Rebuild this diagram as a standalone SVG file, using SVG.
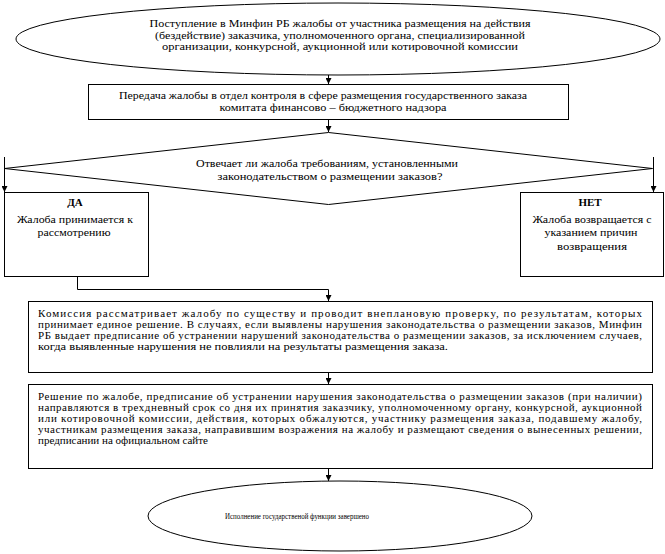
<svg xmlns="http://www.w3.org/2000/svg" width="665" height="554" viewBox="0 0 665 554" font-family="'Liberation Serif', 'Times New Roman', serif">
<style>
.s{fill:#fff;stroke:#000;stroke-width:1}
.c{fill:none;stroke:#000;stroke-width:1}
text{font-family:'Liberation Serif','Times New Roman',serif;font-size:11px;fill:#000}
.m{text-anchor:middle}
.b{font-weight:bold}
.sm{font-size:8px}
</style>
<defs>
<marker id="ah" viewBox="0 0 8 8" refX="8" refY="4" markerWidth="7" markerHeight="6" markerUnits="userSpaceOnUse" orient="auto">
<path d="M0,0 L8,4 L0,8 z" fill="#000"/>
</marker>
</defs>
<rect width="665" height="554" fill="#fff"/>
<g id="connectors">
<path class="c" d="M328.5,75 V84" marker-end="url(#ah)"/>
<path class="c" d="M328.5,119 V132" marker-end="url(#ah)"/>
<path class="c" d="M4.5,157 V192" marker-end="url(#ah)"/>
<path class="c" d="M653.5,157 V192" marker-end="url(#ah)"/>
<path class="c" d="M77.5,276 V289.5 H328.5 V301" marker-end="url(#ah)"/>
<path class="c" d="M328.5,372 V384" marker-end="url(#ah)"/>
<path class="c" d="M328.5,468 V481" marker-end="url(#ah)"/>
</g>
<g id="start">
<ellipse class="s" cx="338" cy="39" rx="322" ry="36"/>
<text class="m" x="340" y="27" textLength="381" lengthAdjust="spacingAndGlyphs">Поступление в Минфин РБ жалобы от участника размещения на действия</text>
<text class="m" x="340" y="38.5" textLength="370" lengthAdjust="spacingAndGlyphs">(бездействие) заказчика, уполномоченного органа, специализированной</text>
<text class="m" x="340" y="50" textLength="356" lengthAdjust="spacingAndGlyphs">организации, конкурсной, аукционной или котировочной комиссии</text>
</g>
<g id="transfer">
<rect class="s" x="88.5" y="84.5" width="480" height="35"/>
<text class="m" x="323" y="99" textLength="408" lengthAdjust="spacingAndGlyphs">Передача жалобы в отдел контроля в сфере размещения государственного заказа</text>
<text class="m" x="333" y="111" textLength="227" lengthAdjust="spacingAndGlyphs">комитата финансово – бюджетного надзора</text>
</g>
<g id="decision">
<polygon class="s" points="328.5,132.5 652.5,168.5 328.5,204.5 4.5,168.5"/>
<text class="m" x="327" y="167" textLength="262" lengthAdjust="spacingAndGlyphs">Отвечает ли жалоба требованиям, установленными</text>
<text class="m" x="330" y="180" textLength="225" lengthAdjust="spacingAndGlyphs">законодательством о размещении заказов?</text>
</g>
<g id="yes">
<rect class="s" x="4.5" y="192.5" width="144" height="84"/>
<text class="m b" x="75" y="206">ДА</text>
<text class="m" x="75" y="223" textLength="116" lengthAdjust="spacingAndGlyphs">Жалоба принимается к</text>
<text class="m" x="74" y="236" textLength="73" lengthAdjust="spacingAndGlyphs">рассмотрению</text>
</g>
<g id="no">
<rect class="s" x="520.5" y="192.5" width="143" height="84"/>
<text class="m b" x="590" y="206">НЕТ</text>
<text class="m" x="592" y="223" textLength="119" lengthAdjust="spacingAndGlyphs">Жалоба возвращается с</text>
<text class="m" x="591" y="236" textLength="93" lengthAdjust="spacingAndGlyphs">указанием причин</text>
<text class="m" x="592" y="250" textLength="70" lengthAdjust="spacingAndGlyphs">возвращения</text>
</g>
<g id="review">
<rect class="s" x="28.5" y="301.5" width="624" height="71"/>
<text x="38" y="317" textLength="604" lengthAdjust="spacing">Комиссия рассматривает жалобу  по существу и проводит внеплановую проверку, по результатам, которых</text>
<text x="38" y="328" textLength="604" lengthAdjust="spacing">принимает единое решение. В случаях, если выявлены нарушения законодательства о размещении заказов, Минфин</text>
<text x="38" y="339" textLength="604" lengthAdjust="spacing">РБ выдает предписание об устранении нарушений законодательства о размещении заказов, за исключением случаев,</text>
<text x="38" y="350" textLength="410" lengthAdjust="spacingAndGlyphs">когда выявленные нарушения не повлияли на результаты размещения заказа.</text>
</g>
<g id="decision-send">
<rect class="s" x="28.5" y="384.5" width="624" height="84"/>
<text x="38" y="400" textLength="604" lengthAdjust="spacing">Решение по жалобе, предписание об устранении нарушения законодательства о размещении заказов (при наличии)</text>
<text x="38" y="411" textLength="604" lengthAdjust="spacing">направляются в трехдневный срок со дня их принятия заказчику, уполномоченному органу, конкурсной, аукционной</text>
<text x="38" y="422" textLength="604" lengthAdjust="spacing">или котировочной комиссии, действия, которых обжалуются, участнику размещения заказа, подавшему жалобу,</text>
<text x="38" y="433" textLength="604" lengthAdjust="spacing">участникам размещения заказа, направившим возражения на жалобу и размещают сведения о вынесенных решении,</text>
<text x="38" y="444" textLength="170" lengthAdjust="spacingAndGlyphs">предписании  на официальном сайте</text>
</g>
<g id="end">
<ellipse class="s" cx="340" cy="516" rx="192" ry="35"/>
<text class="m sm" x="297" y="519" textLength="144" lengthAdjust="spacingAndGlyphs">Исполнение государственой функции завершено</text>
</g>
</svg>
